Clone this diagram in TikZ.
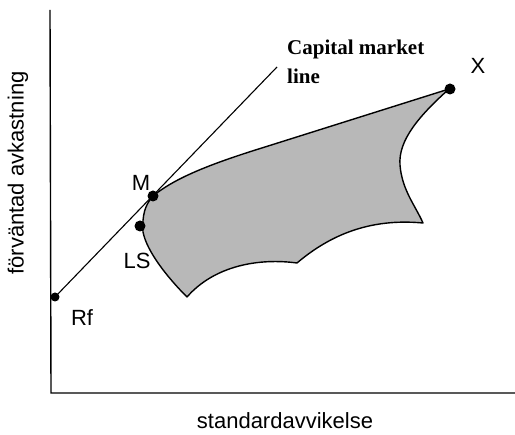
\documentclass[tikz,border=0pt]{standalone}
\usepackage{fontspec}
\setmainfont{Liberation Sans}
\newfontfamily\cmlfont{Liberation Serif}
\begin{document}
\begin{tikzpicture}[
      x=1pt, y=-1pt,
      axis/.style={line width=1.4pt},
      dot/.style={circle, fill=black, inner sep=0pt, minimum size=11pt},
      smalldot/.style={circle, fill=black, inner sep=0pt, minimum size=9pt},
      lbl/.style={font=\fontsize{22}{24}\selectfont, inner sep=0pt},
      cmltext/.style={font=\cmlfont\bfseries\fontsize{21}{29}\selectfont, align=left, inner sep=0pt},
      region/.style={fill=black!28, draw=black, line width=1.4pt, line join=round}
    ]
    \useasboundingbox (0,0) rectangle (515,435);

    % axes
    \coordinate (O) at (51,393);
    \coordinate (Ytop) at (50,10);
    \coordinate (Xend) at (515,393);
    \draw[axis] (Ytop) -- (O) -- (Xend);

    % feasible set
    \draw[region] (153,196) .. controls (175,178) and (210,164) .. (265,147)
      -- (449,89)
      .. controls (420,115) and (398,140) .. (400,165)
      .. controls (402,190) and (415,205) .. (423,223)
      .. controls (370,218) and (330,235) .. (297,263)
      .. controls (260,258) and (215,265) .. (187,297)
      .. controls (168,278) and (147,252) .. (143,232)
      .. controls (142,215) and (145,205) .. (153,196) -- cycle;

    % points
    \node[smalldot] (Rf) at (55,297) {};
    \node[dot] (M) at (153,196) {};
    \node[dot] (LS) at (140,226) {};
    \node[dot] (X) at (450,89) {};
    \coordinate (Lend) at (277,67);
    \draw[line width=1.1pt] (Rf.center) -- (Lend);

    % labels
    \node[lbl] at (82,318) {Rf};
    \node[lbl] at (141,183) {M};
    \node[lbl] at (137,261) {LS};
    \node[lbl] at (478,66) {X};
    \node[cmltext, anchor=north west] at (287,40) {Capital market\\line};
    \node[lbl, rotate=90] at (18,173) {förväntad avkastning};
    \node[lbl] at (285,421) {standardavvikelse};
  \end{tikzpicture}
\end{document}
